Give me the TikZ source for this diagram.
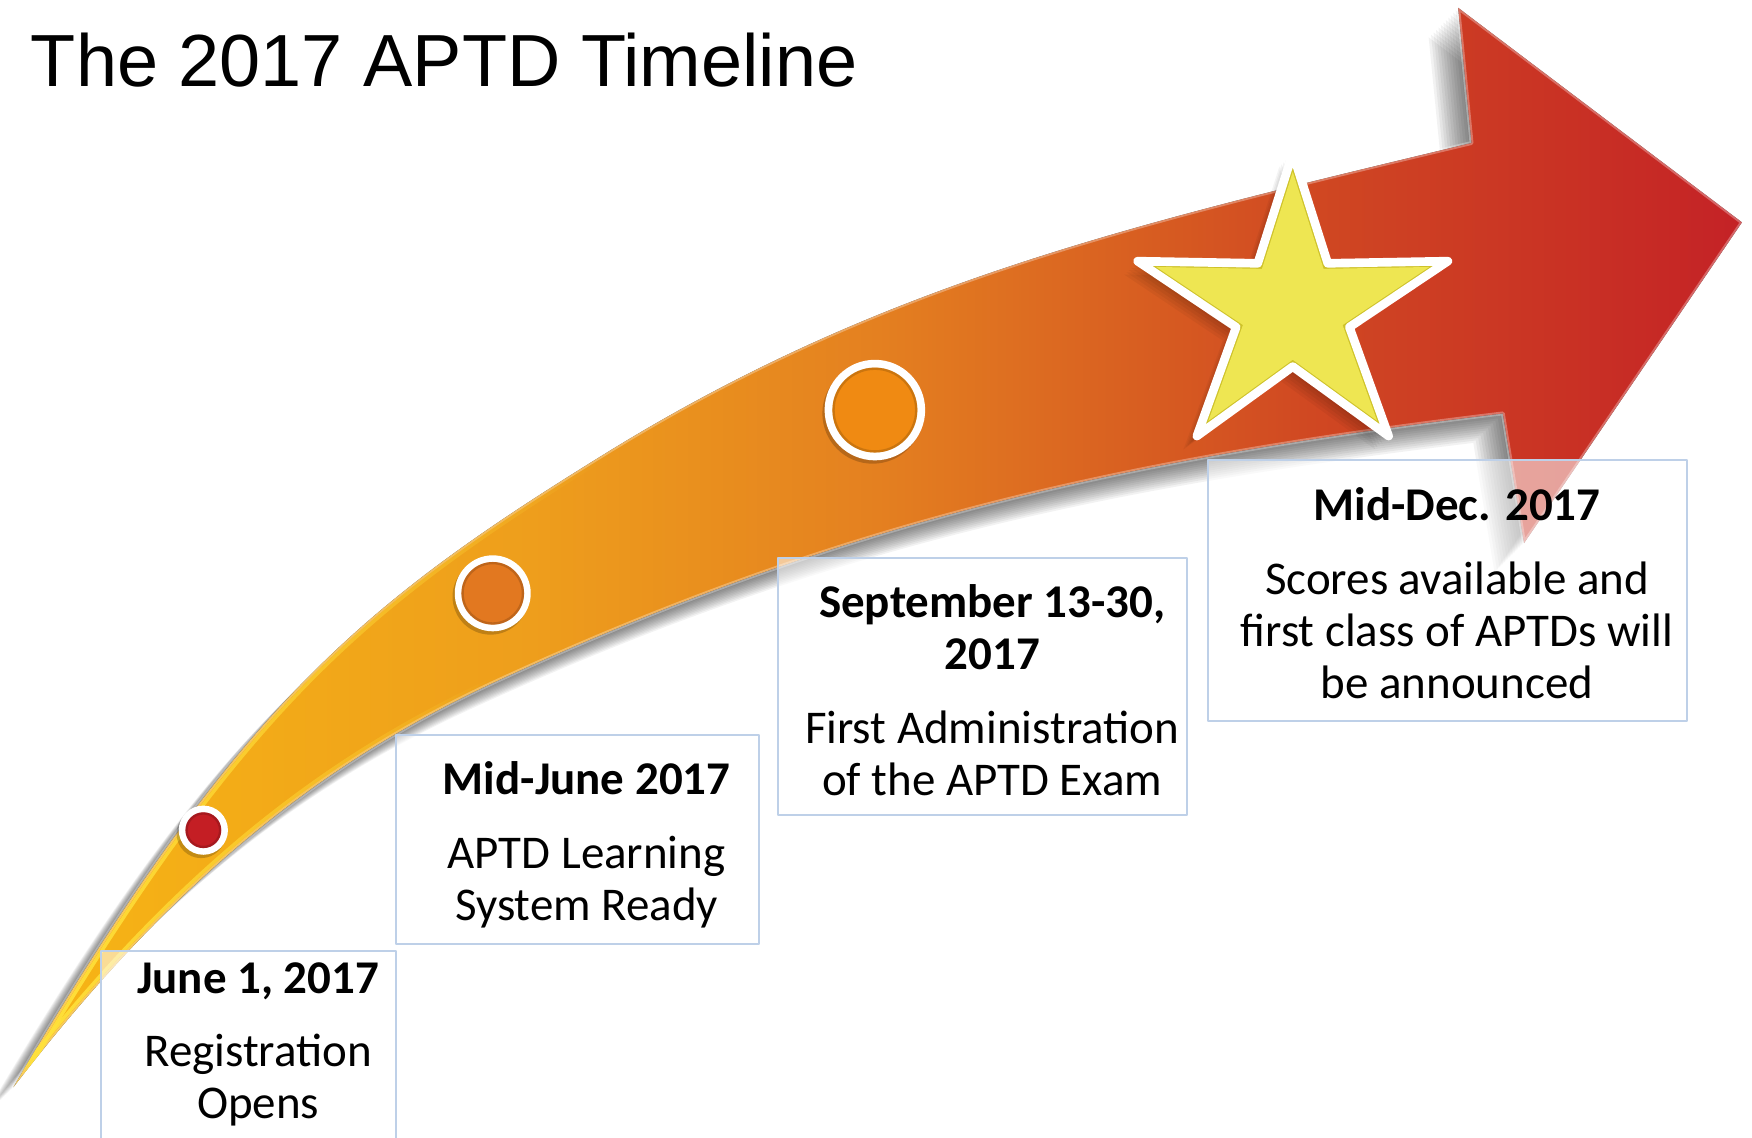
\documentclass[tikz,border=0pt]{standalone}
\usepackage{fontspec}
\usetikzlibrary{fadings}
\setmainfont{Carlito}
\newfontfamily\titlefont{Liberation Sans}
\definecolor{arrowA}{RGB}{247,182,20}
\definecolor{arrowB}{RGB}{238,158,28}
\definecolor{arrowC}{RGB}{228,128,32}
\definecolor{arrowD}{RGB}{208,72,34}
\definecolor{arrowE}{RGB}{196,34,38}
\definecolor{glowyellow}{RGB}{255,226,60}
\definecolor{boxblue}{RGB}{190,208,232}
\definecolor{staryellow}{RGB}{238,230,82}
\definecolor{stardark}{RGB}{206,194,42}
\definecolor{dotred}{RGB}{196,30,36}
\definecolor{dotorange}{RGB}{226,120,32}
\definecolor{dotamber}{RGB}{240,138,18}
\pgfdeclarehorizontalshading{arrowfade}{100bp}{color(0bp)=(arrowA); color(25bp)=(arrowA); color(40bp)=(arrowB); color(50bp)=(arrowC); color(62.5bp)=(arrowD); color(75bp)=(arrowE); color(100bp)=(arrowE)}
\begin{document}
\begin{tikzpicture}[x=0.01cm,y=-0.01cm,line join=round,line cap=round,
  datebox/.style={draw=boxblue,line width=0.5pt,fill=white,fill opacity=0.55},
  datetext/.style={anchor=base,inner sep=0pt,font=\fontsize{11.95}{13.23}\selectfont},
  tailglow/.style={draw=glowyellow,line width=0.9pt,path fading=east}]
\def\arrowpath{(12,973) .. controls (212,633) and (320,543) .. (540,407)
  .. controls (790,252) and (1017,200) .. (1317,128)
  -- (1305,7) -- (1559,199) -- (1364,486) -- (1345,370)
  .. controls (995,412) and (748,470) .. (448,608)
  .. controls (298,677) and (162,778) .. (12,973) -- cycle}
\def\starpath{plot[samples at={0,...,9},variable=\k] ({146*(1-0.635*mod(\k,2))*cos(90+36*\k)},{-140*(1-0.635*mod(\k,2))*sin(90+36*\k)}) -- cycle}
\useasboundingbox (0,0) rectangle (1568,1018);
\fill[white] (0,0) rectangle (1568,1018);
\clip (0,0) rectangle (1568,1018);
\node[anchor=base west,inner sep=0pt,font=\titlefont\fontsize{18.8}{22}\selectfont] (title) at (27,77) {The 2017 APTD Timeline};
\foreach \d in {1,...,12}
  {\fill[black,opacity=0.05,shift={(-2.2*\d,2.2*\d)}] \arrowpath;}
\fill[shading=arrowfade] \arrowpath;
\draw[white,opacity=0.3,line width=1pt] \arrowpath;
\begin{scope}
  \clip \arrowpath;
  \draw[tailglow,shift={(3,2)}] (12,973) .. controls (212,633) and (320,543) .. (540,407);
  \draw[tailglow,shift={(-3,-2)}] (448,608) .. controls (298,677) and (162,778) .. (12,973);
\end{scope}
\foreach \m/\px/\py/\ro/\ri/\c in {m1/182/743/22/16/dotred,m2/441/531/34/28/dotorange,m3/783/367/45/38/dotamber}{
  \coordinate (\m) at (\px,\py);
  \fill[black,opacity=0.2] ([shift={(-2,3)}]\m) circle (\ro);
  \fill[white] (\m) circle (\ro);
  \fill[\c] (\m) circle (\ri);
  \draw[\c!70!black,opacity=0.5,line width=0.6pt] (\m) circle (\ri-1);
}
\begin{scope}[shift={(1157,277)}]
  \foreach \d in {1,...,6}
    {\fill[black,opacity=0.045,shift={(-2*\d,2*\d)}] \starpath;}
  \draw[white,line width=2.2pt,fill=stardark] \starpath;
  \fill[staryellow,scale=0.88] \starpath;
\end{scope}
\foreach \b/\xa/\ya/\xb/\yb in {b1/90/851/354/1040,b2/354/658/679/845,b3/696/499/1062/729,b4/1081/412/1510/645}
  {\draw[datebox] (\xa,\ya) rectangle (\xb,\yb);}
\node[datetext] (t1) at (231,889) {\begin{tabular}[t]{@{}c@{}}\bfseries June 1, 2017\\[5.5pt] Registration\\ Opens\end{tabular}};
\node[datetext] (t2) at (525,711) {\begin{tabular}[t]{@{}c@{}}\bfseries Mid-June 2017\\[5.5pt] APTD Learning\\ System Ready\end{tabular}};
\node[datetext] (t3) at (888,553) {\begin{tabular}[t]{@{}c@{}}\bfseries September 13-30,\\ \bfseries 2017\\[5.5pt] First Administration\\ of the APTD Exam\end{tabular}};
\node[datetext] (t4) at (1304,466) {\begin{tabular}[t]{@{}c@{}}\bfseries Mid-Dec. 2017\\[5.5pt] Scores available and\\ first class of APTDs will\\ be announced\end{tabular}};
\end{tikzpicture}
\end{document}
